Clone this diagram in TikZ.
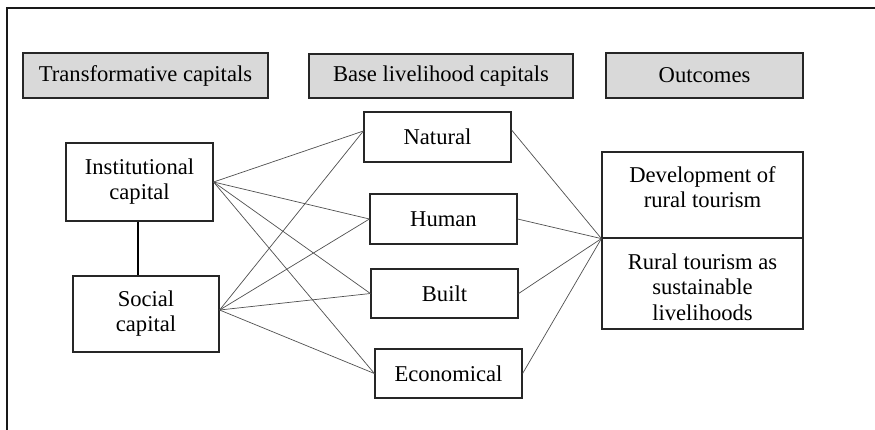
\documentclass[tikz,border=0pt]{standalone}
\usepackage{fontspec}
\setmainfont{Liberation Serif}
\usetikzlibrary{positioning}
\definecolor{hdrgray}{HTML}{D9D9D9}
\definecolor{linkgray}{HTML}{505050}
\tikzset{
  box/.style={draw=black!85, line width=1.2pt, inner sep=0pt, align=center, font=\fontsize{22.6}{25}\selectfont},
  hdr/.style={box, fill=hdrgray},
  txt/.style={inner sep=0pt, align=center, font=\fontsize{22.6}{25.5}\selectfont},
  link/.style={draw=linkgray, line width=0.7pt},
}
\begin{document}
\begin{tikzpicture}[x=1pt,y=-1pt]
\useasboundingbox (0,0) rectangle (875,429);
\clip (0,0) rectangle (875,429);
\fill[white] (0,0) rectangle (875,429);
\draw[line width=2.8pt, black!90] (7,450) -- (7,8) -- (900,8);
% headers
\node[hdr, minimum width=245pt, minimum height=45pt] (h1) at (145.5,75.5) {Transformative capitals};
\node[hdr, minimum width=264pt, minimum height=44pt] (h2) at (441,76) {Base livelihood capitals};
\node[hdr, minimum width=197pt, minimum height=45pt] (h3) at (704.5,75.5) {Outcomes};
% transformative
\node[box, minimum width=147pt, minimum height=78pt] (inst) at (139.5,182) {Institutional\\capital};
\node[box, minimum width=146pt, minimum height=76pt] (soc) at (146,314) {Social\\capital};
% base
\node[box, minimum width=147pt, minimum height=50pt] (nat) at (437.5,137) {Natural};
\node[box, minimum width=147pt, minimum height=50pt] (hum) at (443.5,219) {Human};
\node[box, minimum width=147pt, minimum height=49pt] (blt) at (444.5,293.5) {Built};
\node[box, minimum width=147pt, minimum height=49pt] (eco) at (448.5,373.5) {Economical};
% outcomes
\node[box, minimum width=201pt, minimum height=86pt] (dev) at (702.5,195) {};
\node[txt] (devtext) at (702.5,187) {Development of\\rural tourism};
\node[box, minimum width=201pt, minimum height=91pt] (rur) at (702.5,283.5) {};
\node[txt] (rurtext) at (702.5,287) {Rural tourism as\\sustainable\\livelihoods};
% anchor points
\coordinate (natL) at ([yshift=6pt]nat.west);
\coordinate (natR) at ([yshift=7pt]nat.east);
\coordinate (socR) at ([yshift=4pt]soc.east);
\coordinate (out) at (dev.south west);
% links
\draw[line width=2pt, black] (inst.south -| 138,0) -- (soc.north -| 138,0);
\foreach \t in {natL, hum.west, blt.west, eco.west} {
  \draw[link] (inst.east) -- (\t);
  \draw[link] (socR) -- (\t);
}
\foreach \s in {natR, hum.east, blt.east, eco.east} {
  \draw[link] (\s) -- (out);
}
\end{tikzpicture}
\end{document}
